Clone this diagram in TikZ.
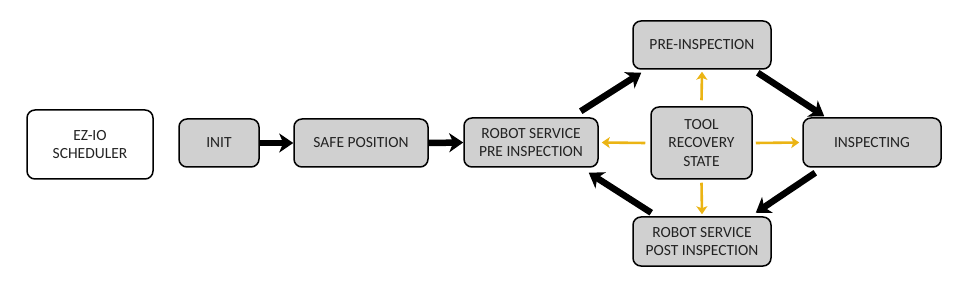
\documentclass[tikz,border=0pt]{standalone}
\usepackage{fontspec}
\setmainfont{Carlito}
\usetikzlibrary{arrows.meta}
\definecolor{boxgrey}{RGB}{208,208,208}
\definecolor{gold}{RGB}{235,180,20}
\definecolor{txt}{RGB}{35,35,35}
\tikzset{
  state/.style={draw=black, line width=1.5pt, rounded corners=8pt, fill=boxgrey, align=center,
    font=\fontsize{15.5}{18.5}\selectfont, text=txt, inner sep=0pt},
  plain/.style={state, fill=white},
  flow/.style={line width=6.5pt, -{Stealth[length=14pt,width=19pt,inset=4pt]}},
  recov/.style={draw=gold, line width=2.6pt, -{Stealth[length=8pt,width=11pt,inset=2pt]}}
}
\begin{document}
\begin{tikzpicture}[x=1pt,y=1pt]
\useasboundingbox (0,0) rectangle (980,300);
\node[plain, minimum width=126pt, minimum height=69pt] (ez) at (90,155.5) {EZ-IO\\SCHEDULER};
\node[state, minimum width=80pt, minimum height=48pt] (init) at (219,157) {INIT};
\node[state, minimum width=134pt, minimum height=48pt] (safe) at (361,157) {SAFE POSITION};
\node[state, minimum width=134pt, minimum height=49pt] (rspi) at (531,157.5) {ROBOT SERVICE\\PRE INSPECTION};
\node[state, minimum width=138pt, minimum height=48pt] (pre) at (702,255) {PRE-INSPECTION};
\node[state, minimum width=101pt, minimum height=72pt] (tool) at (701.5,157) {TOOL\\RECOVERY\\STATE};
\node[state, minimum width=138pt, minimum height=49pt] (insp) at (872,157.5) {INSPECTING};
\node[state, minimum width=138pt, minimum height=49pt] (post) at (702,58.5) {ROBOT SERVICE\\POST INSPECTION};

\draw[flow] (init.east) -- (safe.west);
\draw[flow] (safe.east) -- (rspi.west);
\draw[flow] ([xshift=-18pt,yshift=6pt]rspi.north east) -- ([xshift=9pt,yshift=-3pt]pre.south west);
\draw[flow] ([xshift=-14pt,yshift=-3pt]pre.south east) -- ([xshift=22pt,yshift=1pt]insp.north west);
\draw[flow] ([xshift=13pt,yshift=-5pt]insp.south west) -- ([xshift=-16pt,yshift=3.5pt]post.north east);
\draw[flow] ([xshift=19pt,yshift=3.5pt]post.north west) -- ([xshift=-10pt,yshift=-5pt]rspi.south east);

\draw[recov] ([yshift=6pt]tool.north) -- ([yshift=-2pt]pre.south);
\draw[recov] ([yshift=-3pt]tool.south) -- ([yshift=2pt]post.north);
\draw[recov] ([xshift=-5pt]tool.west) -- ([xshift=3pt]rspi.east);
\draw[recov] ([xshift=3pt]tool.east) -- ([xshift=-3pt]insp.west);
\end{tikzpicture}
\end{document}
